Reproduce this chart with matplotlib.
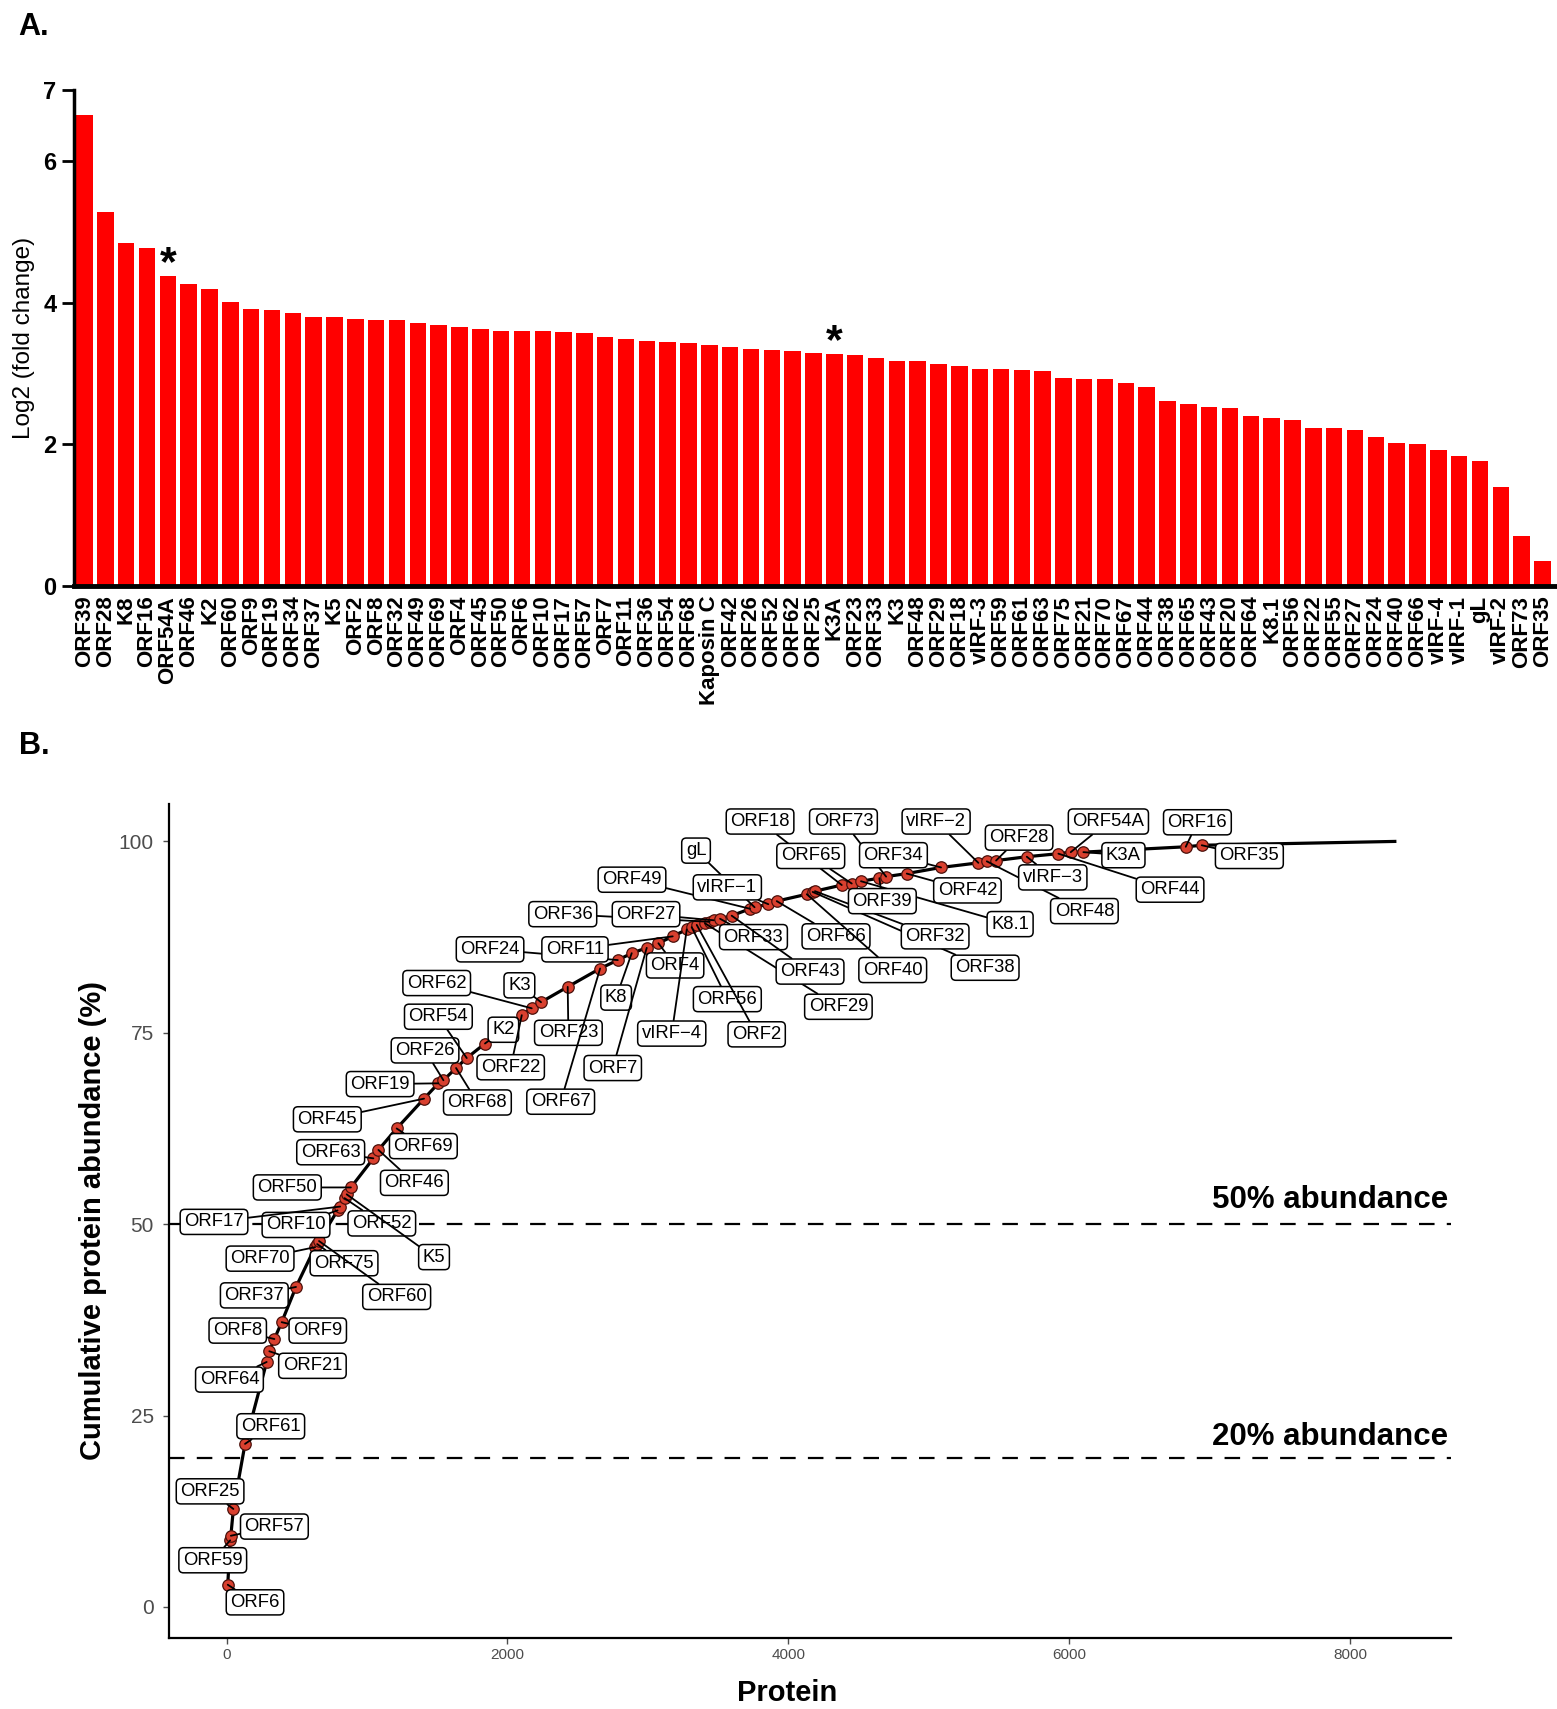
import numpy as np
import matplotlib
matplotlib.use("Agg")
import matplotlib.pyplot as plt

plt.rcParams['font.family'] = ['Liberation Sans', 'DejaVu Sans']

# ---------------------------------------------------
# Panel A : log2 fold change per viral protein
genes_a = ["ORF39", "ORF28", "K8", "ORF16", "ORF54A", "ORF46", "K2", "ORF60", "ORF9",
           "ORF19", "ORF34", "ORF37", "K5", "ORF2", "ORF8", "ORF32", "ORF49", "ORF69",
           "ORF4", "ORF45", "ORF50", "ORF6", "ORF10", "ORF17", "ORF57", "ORF7", "ORF11",
           "ORF36", "ORF54", "ORF68", "Kaposin C", "ORF42", "ORF26", "ORF52", "ORF62",
           "ORF25", "K3A", "ORF23", "ORF33", "K3", "ORF48", "ORF29", "ORF18", "vIRF-3",
           "ORF59", "ORF61", "ORF63", "ORF75", "ORF21", "ORF70", "ORF67", "ORF44",
           "ORF38", "ORF65", "ORF43", "ORF20", "ORF64", "K8.1", "ORF56", "ORF22",
           "ORF55", "ORF27", "ORF24", "ORF40", "ORF66", "vIRF-4", "vIRF-1", "gL",
           "vIRF-2", "ORF73", "ORF35"]
log2fc = [6.65, 5.28, 4.84, 4.77, 4.38, 4.27, 4.19, 4.01, 3.91,
          3.90, 3.86, 3.80, 3.80, 3.77, 3.76, 3.76, 3.71, 3.68,
          3.66, 3.63, 3.60, 3.60, 3.60, 3.59, 3.57, 3.51, 3.49,
          3.46, 3.45, 3.43, 3.40, 3.37, 3.35, 3.33, 3.32,
          3.29, 3.28, 3.26, 3.22, 3.17, 3.17, 3.14, 3.10, 3.07,
          3.07, 3.05, 3.04, 2.94, 2.92, 2.92, 2.87, 2.81,
          2.61, 2.57, 2.53, 2.51, 2.40, 2.37, 2.35, 2.23,
          2.23, 2.20, 2.10, 2.02, 2.01, 1.92, 1.84, 1.76,
          1.40, 0.70, 0.36]
starred = ["ORF54A", "K3A"]

# ---------------------------------------------------
# Panel B : cumulative abundance (protein rank, cumulative %)
genes_b = ["ORF6", "ORF59", "ORF57", "ORF25", "ORF61", "ORF64", "ORF21", "ORF8", "ORF9",
           "ORF37", "ORF70", "ORF75", "ORF60", "ORF10", "ORF17", "ORF52", "K5", "ORF50",
           "ORF63", "ORF46", "ORF69", "ORF45", "ORF19", "ORF26", "ORF68", "ORF54", "K2",
           "ORF22", "ORF62", "K3", "ORF23", "ORF67", "ORF24", "K8", "ORF7", "ORF4",
           "ORF11", "vIRF-4", "ORF56", "ORF2", "ORF29", "ORF36", "ORF27", "ORF33",
           "ORF43", "ORF49", "gL", "vIRF-1", "ORF66", "ORF40", "ORF38", "ORF32",
           "ORF18", "ORF65", "K8.1", "ORF39", "ORF73", "ORF42", "ORF34", "vIRF-2",
           "ORF48", "ORF28", "vIRF-3", "ORF44", "ORF54A", "K3A", "ORF16", "ORF35"]
rank_b = [8, 25, 30, 48, 131, 285, 304, 340, 392,
          494, 630, 645, 658, 790, 808, 840, 855, 885,
          1045, 1081, 1211, 1406, 1508, 1544, 1634, 1710, 1840,
          2102, 2173, 2239, 2429, 2660, 2786, 2885, 2992, 3075,
          3177, 3277, 3312, 3348, 3407, 3440, 3470, 3514,
          3597, 3728, 3760, 3858, 3918, 4132, 4174, 4190,
          4381, 4452, 4518, 4649, 4697, 4844, 5088, 5354,
          5414, 5480, 5699, 5924, 6012, 6102, 6831, 6945]
cum_b = [2.9, 8.7, 9.3, 12.8, 21.3, 32.0, 33.4, 35.0, 37.2,
         41.8, 47.0, 47.4, 47.8, 51.8, 52.3, 53.4, 53.9, 54.8,
         58.6, 59.7, 62.5, 66.4, 68.4, 68.8, 70.4, 71.7, 73.6,
         77.3, 78.2, 79.0, 81.0, 83.4, 84.5, 85.4, 86.1, 86.7,
         87.6, 88.5, 88.8, 89.1, 89.3, 89.5, 89.7, 89.9,
         90.3, 91.2, 91.4, 91.8, 92.2, 93.1, 93.4, 93.5,
         94.3, 94.5, 94.8, 95.2, 95.4, 95.8, 96.6, 97.2,
         97.4, 97.5, 98.0, 98.4, 98.6, 98.6, 99.3, 99.5]
n_proteins = 8320          # last protein of the ranking (100 %)
thresholds = [50, 19.5]

# label placement (repel-style layout, data units)
label_xy = {
    "ORF18": (3799, 102.6), "ORF73": (4393, 102.6), "vIRF-2": (5053, 102.6),
    "ORF54A": (6280, 102.6), "ORF16": (6914, 102.5), "ORF28": (5644, 100.5),
    "gL": (3343, 98.8), "ORF65": (4160, 98.1), "ORF34": (4749, 98.2),
    "K3A": (6387, 98.2), "ORF35": (7284, 98.1), "ORF49": (2887, 95.0),
    "vIRF-1": (3566, 94.0), "vIRF-3": (5884, 95.3), "ORF44": (6719, 93.7),
    "ORF39": (4670, 92.2), "ORF42": (5276, 93.6), "ORF48": (6109, 90.9),
    "ORF36": (2394, 90.5), "ORF27": (2987, 90.5), "K8.1": (5580, 89.2),
    "ORF24": (1876, 85.9), "ORF11": (2481, 85.9), "ORF33": (3752, 87.5),
    "ORF66": (4340, 87.6), "ORF32": (5046, 87.6), "ORF4": (3194, 83.8),
    "ORF43": (4155, 83.0), "ORF40": (4744, 83.2), "ORF38": (5402, 83.5),
    "ORF62": (1496, 81.5), "K3": (2085, 81.2), "K8": (2774, 79.6),
    "ORF56": (3566, 79.4), "ORF29": (4357, 78.4), "ORF54": (1508, 77.1),
    "K2": (1971, 75.4), "ORF23": (2434, 75.0), "vIRF-4": (3170, 74.9),
    "ORF2": (3775, 74.8), "ORF26": (1413, 72.7), "ORF22": (2023, 70.5),
    "ORF7": (2750, 70.4), "ORF19": (1093, 68.3), "ORF68": (1786, 65.9),
    "ORF67": (2379, 66.0), "ORF45": (717, 63.7), "ORF69": (1401, 60.2),
    "ORF63": (741, 59.4), "ORF46": (1337, 55.4), "ORF50": (432, 54.8),
    "ORF17": (-90, 50.3), "ORF10": (494, 49.9), "ORF52": (1105, 50.1),
    "K5": (1477, 45.7), "ORF70": (238, 45.5), "ORF75": (836, 44.9),
    "ORF60": (1211, 40.5), "ORF37": (197, 40.7), "ORF9": (649, 36.1),
    "ORF8": (79, 36.1), "ORF21": (611, 31.5), "ORF64": (20, 29.7),
    "ORF61": (314, 23.6), "ORF25": (-118, 15.1), "ORF57": (340, 10.5),
    "ORF59": (-99, 6.1), "ORF6": (202, 0.6),
}

# ---------------------------------------------------
fig = plt.figure(figsize=(15.57, 17.09), dpi=100)

# ---- A ----
axA = fig.add_axes([0.0475, 0.6571, 0.9525, 0.2901])
x = np.arange(len(genes_a))
axA.bar(x, log2fc, width=0.79, color='#ff0000', zorder=2)
for g in starred:
    i = genes_a.index(g)
    axA.text(i, log2fc[i] - 0.12, "*", ha='center', va='bottom',
             fontsize=31, fontweight='bold')
axA.set_xlim(-0.51, len(genes_a) - 0.3)
axA.set_ylim(0, 7)
axA.set_yticks([0, 2, 4, 6, 7])
axA.set_xticks(x)
axA.set_xticklabels(genes_a, rotation=90, fontsize=16, fontweight='bold')
axA.tick_params(axis='x', length=0, pad=7)
axA.tick_params(axis='y', length=9, width=2, labelsize=17)
for lab in axA.get_yticklabels():
    lab.set_fontweight('bold')
axA.spines['top'].set_visible(False)
axA.spines['right'].set_visible(False)
axA.spines['left'].set_linewidth(2.5)
axA.spines['bottom'].set_linewidth(3.5)
axA.set_ylabel("Log2 (fold change)", fontsize=17.5, labelpad=6)
fig.text(0.012, 0.984, "A.", fontsize=22, fontweight='bold', va='center')

# ---- B ----
axB = fig.add_axes([0.1085, 0.0418, 0.8235, 0.4878])
axB.plot(rank_b + [n_proteins], cum_b + [100], color='black', lw=2.3, zorder=2)
for t in thresholds:
    axB.axhline(t, color='black', lw=1.6, linestyle=(0, (7, 5.5)), zorder=1)
axB.text(8700, 51.2, "50% abundance", ha='right', va='bottom',
         fontsize=22.5, fontweight='bold')
axB.text(8700, 20.3, "20% abundance", ha='right', va='bottom',
         fontsize=22.5, fontweight='bold')
axB.scatter(rank_b, cum_b, s=68, facecolor='#d9402f', edgecolor='#4a100b',
            linewidth=0.9, zorder=3)

for g, px, py in zip(genes_b, rank_b, cum_b):
    lx, ly = label_xy[g]
    axB.annotate(g.replace("-", "\u2212"), xy=(px, py), xytext=(lx, ly),
                 ha='center', va='center', fontsize=13.3, zorder=5,
                 bbox=dict(boxstyle='round,pad=0.22,rounding_size=0.25',
                           fc='white', ec='black', lw=1.1),
                 arrowprops=dict(arrowstyle='-', color='black', lw=1.3,
                                 shrinkA=0, shrinkB=0))

axB.set_xlim(-411, 8721)
axB.set_ylim(-4, 104.9)
axB.set_xticks([0, 2000, 4000, 6000, 8000])
axB.set_yticks([0, 25, 50, 75, 100])
axB.tick_params(axis='x', labelsize=11, colors='#4d4d4d', length=4, width=1)
axB.tick_params(axis='y', labelsize=15, colors='#4d4d4d', length=4, width=1,
                pad=7)
axB.spines['top'].set_visible(False)
axB.spines['right'].set_visible(False)
axB.spines['left'].set_linewidth(1.6)
axB.spines['bottom'].set_linewidth(1.6)
axB.set_xlabel("Protein", fontsize=21, fontweight='bold')
axB.xaxis.set_label_coords(0.482, -0.05)
axB.set_ylabel("Cumulative protein abundance (%)", fontsize=21,
               fontweight='bold', labelpad=8)
fig.text(0.012, 0.5635, "B.", fontsize=22, fontweight='bold', va='center')

fig.savefig("out.png", dpi=100)
